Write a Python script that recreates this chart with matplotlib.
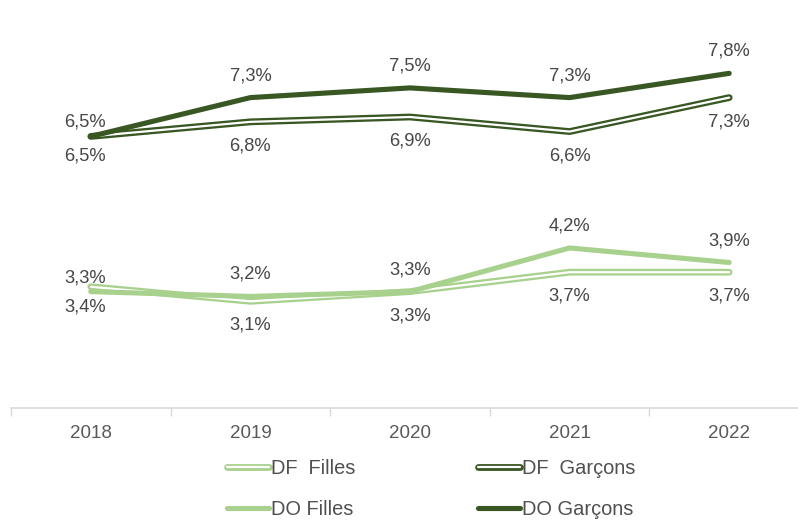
import matplotlib.pyplot as plt
from matplotlib.lines import Line2D
from matplotlib.legend_handler import HandlerTuple

years = ['2018', '2019', '2020', '2021', '2022']
df_filles = [3.4, 3.1, 3.3, 3.7, 3.7]
df_garcons = [6.5, 6.8, 6.9, 6.6, 7.3]
do_filles = [3.3, 3.2, 3.3, 4.2, 3.9]
do_garcons = [6.5, 7.3, 7.5, 7.3, 7.8]

dark = '#385723'
light = '#a9d18e'
txt = '#474747'

plt.rcParams['font.family'] = ['Liberation Sans', 'DejaVu Sans']

fig = plt.figure(figsize=(7.98, 5.2), dpi=100)
ax = fig.add_axes([11 / 798, 112 / 520, 798 / 798, 388 / 520])

x = list(range(len(years)))
W_OUT, W_IN, W_DO = 4.9, 1.6, 3.7

def double_line(vals, col):
    ax.plot(x, vals, color=col, lw=W_OUT, solid_capstyle='round', solid_joinstyle='round', zorder=2)
    ax.plot(x, vals, color='white', lw=W_IN, solid_capstyle='round', solid_joinstyle='round', zorder=2.1)

double_line(df_filles, light)
ax.plot(x, do_filles, color=light, lw=W_DO, solid_capstyle='round', solid_joinstyle='round', zorder=3)
double_line(df_garcons, dark)
ax.plot(x, do_garcons, color=dark, lw=W_DO, solid_capstyle='round', solid_joinstyle='round', zorder=3)

def fmt(v):
    return f'{v:.1f}'.replace('.', ',') + '%'

for i in x:
    dx = -6 if i == 0 else 0
    up0 = 14 if i == 0 else 22
    for vals in (do_filles, do_garcons):
        ax.annotate(fmt(vals[i]), (i, vals[i]), xytext=(dx, up0), textcoords='offset pixels',
                    ha='center', va='center', fontsize=13.2, color=txt)
    dn0 = -20 if i == 0 else -24
    for vals in (df_filles, df_garcons):
        ax.annotate(fmt(vals[i]), (i, vals[i]), xytext=(dx, dn0), textcoords='offset pixels',
                    ha='center', va='center', fontsize=13.2, color=txt)

ax.set_xlim(-0.5, 4.5)
ax.set_ylim(0.9, 8.9)
ax.set_yticks([])
ax.set_xticks(x)
ax.set_xticklabels(years, fontsize=13.5, color='#595959')
ax.set_xticks([-0.5, 0.5, 1.5, 2.5, 3.5, 4.5], minor=True)
ax.tick_params(axis='x', which='major', length=0, pad=12)
ax.tick_params(axis='x', which='minor', length=6, color='#d9d9d9', width=1)
for s in ('top', 'right', 'left'):
    ax.spines[s].set_visible(False)
ax.spines['bottom'].set_color('#d9d9d9')
ax.spines['bottom'].set_linewidth(1.2)

def dbl_handle(col):
    return (Line2D([], [], color=col, lw=W_OUT, solid_capstyle='round'),
            Line2D([], [], color='white', lw=W_IN, solid_capstyle='round'))

handles = [dbl_handle(light), Line2D([], [], color=light, lw=W_DO, solid_capstyle='round'),
           dbl_handle(dark), Line2D([], [], color=dark, lw=W_DO, solid_capstyle='round')]
labels = ['DF  Filles', 'DO Filles', 'DF  Garçons', 'DO Garçons']
leg = fig.legend(handles, labels, ncol=2, loc='upper left',
                 bbox_to_anchor=(227 / 798, (520 - 459) / 520), frameon=False,
                 fontsize=14.4, handlelength=2.1, handletextpad=0.1, columnspacing=6.15,
                 labelspacing=1.08, borderpad=0, borderaxespad=0,
                 handler_map={tuple: HandlerTuple(ndivide=1, pad=0)})
for t in leg.get_texts():
    t.set_color('#505050')

fig.savefig('out.png', dpi=100)
